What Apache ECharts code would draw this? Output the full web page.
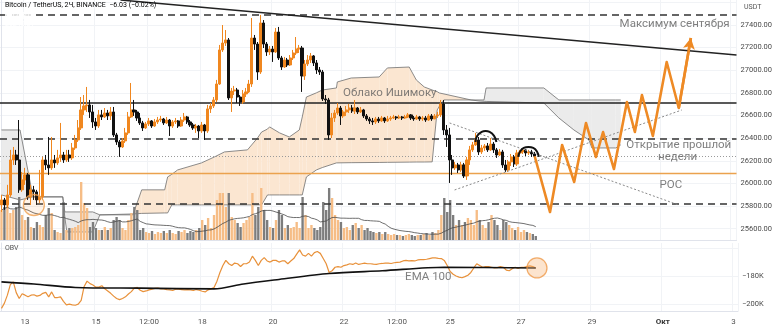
<!DOCTYPE html>
<html><head><meta charset="utf-8">
<script src="https://cdn.jsdelivr.net/npm/echarts@6/dist/echarts.min.js"></script>
<style>html,body{margin:0;padding:0;background:#fff}#c{width:775px;height:331px}</style>
</head><body><div id="c"></div>
<script>
// ---------- DATA ----------
const N_BARS = 250;                          // 2h slots from Sep 12 08:00 to Oct 3
const START = Date.UTC(2023, 8, 12, 8);
const xTickIdx  = [8, 32, 50, 68, 92, 116, 134, 152, 176, 200, 224, 248];
const xTickText = ['13','15','12:00','18','20','22','12:00','25','27','29','Окт','3'];
const priceTicks = [25600,25800,26000,26200,26400,26600,26800,27000,27200,27400];
const obvTicks = [-180, -200];

const open0 = 25810;
const closes = [25854,25810,25898,26207,26251,26207,25943,26031,26075,25881,25943,25925,25854,25881,26207,26163,26137,26207,26181,26225,
26251,26207,26251,26225,26313,26384,26490,26649,26684,26693,26631,26543,26507,26605,26587,26622,26596,26631,26428,26366,
26322,26375,26446,26587,26649,26631,26578,26534,26490,26525,26552,26507,26543,26560,26569,26534,26560,26507,26543,26552,
26507,26560,26587,26543,26516,26490,26507,26463,26516,26463,26658,26684,26737,26878,27179,27240,27267,26755,26816,26825,
26763,26719,26790,26808,26878,27284,27231,26984,27417,27231,27161,27187,27161,27337,27108,27028,27090,27046,27108,27152,
27187,27196,26949,27055,27090,27126,27064,27002,26984,26746,26737,26428,26578,26622,26666,26596,26631,26649,26666,26640,
26666,26631,26649,26596,26569,26552,26543,26569,26552,26578,26552,26569,26578,26587,26578,26587,26578,26587,26605,26578,
26569,26587,26569,26578,26560,26596,26569,26596,26605,26702,26472,26428,26207,26137,26163,26119,26163,26066,26207,26296,
26340,26384,26278,26313,26331,26296,26348,26296,26251,26278,26163,26119,26190,26234,26172,26269,26278,26296,26269,26278,
26260,26240];
const highs = [25898,25872,25987,26296,26322,26296,26560,26101,26137,26092,25987,25978,25943,26119,26234,26251,26410,26410,26251,26296,
26534,26278,26296,26296,26357,26428,26560,26763,26781,26852,26737,26693,26578,26649,26649,26666,26649,26675,26675,26446,
26384,26401,26490,26631,26887,26737,26649,26622,26552,26543,26578,26560,26569,26587,26596,26578,26587,26569,26560,26578,
26560,26587,26622,26596,26560,26534,26525,26516,26543,26525,26693,26710,26763,26914,27223,27399,27355,27284,26843,26861,
26843,26781,26825,26843,26914,27461,27311,27249,27488,27443,27249,27214,27214,27373,27382,27126,27117,27108,27134,27179,
27293,27223,27214,27090,27134,27152,27134,27090,27028,27002,26781,26755,26622,26649,26710,26684,26649,26684,26702,26693,
26737,26675,26675,26658,26613,26587,26578,26587,26587,26596,26587,26596,26596,26605,26596,26605,26596,26605,26622,26613,
26596,26605,26596,26596,26596,26613,26613,26613,26631,26737,26737,26516,26490,26251,26190,26181,26190,26181,26234,26331,
26366,26446,26410,26340,26348,26357,26401,26366,26313,26304,26296,26207,26207,26260,26251,26296,26296,26313,26304,26296,
26296,26278];
const lows = [25748,25766,25783,25881,26163,26163,25916,25925,25987,25854,25810,25854,25810,25827,25854,26119,26075,26119,26137,26163,
26190,26181,26190,26190,26207,26296,26366,26472,26605,26631,26578,26490,26472,26490,26560,26578,26560,26560,26410,26340,
26234,26313,26357,26428,26578,26596,26552,26516,26463,26481,26507,26490,26499,26525,26543,26516,26525,26419,26490,26525,
26490,26499,26543,26525,26499,26472,26446,26401,26446,26384,26446,26622,26666,26719,26870,27161,27214,26737,26631,26781,
26710,26684,26702,26763,26799,26852,27179,26914,26967,27196,27126,27134,27073,27152,27090,27002,27020,27028,27037,27090,
27134,27152,26808,26914,27037,27064,27037,26967,26958,26728,26702,26384,26401,26543,26605,26516,26578,26596,26622,26622,
26613,26613,26622,26578,26552,26525,26516,26525,26534,26543,26534,26543,26552,26569,26560,26569,26560,26569,26578,26560,
26552,26560,26552,26552,26543,26552,26552,26569,26578,26587,26428,26322,26004,26075,26119,26092,26101,26048,26031,26163,
26278,26331,26251,26260,26287,26278,26287,26269,26225,26242,26137,26101,26101,26154,26145,26154,26242,26260,26242,26251,
26234,26225];
const volumes = [3000,3300,3500,2700,3000,3300,4300,2500,2000,2300,1300,1200,1800,1500,1300,2500,3200,2700,1000,800,
700,3800,1000,1200,1200,1300,1500,5800,3700,3200,1300,1800,1200,1000,1000,1300,1000,1200,2000,2300,
2000,1200,1000,2000,2700,3300,3000,1000,1200,800,700,900,600,800,700,900,700,1000,700,600,
900,800,1000,700,900,800,1000,1200,2000,1500,2200,1200,2500,4000,4700,4700,3300,4700,2300,2000,
1700,1300,1700,2000,2300,4700,2500,3300,5200,3000,2000,1300,1200,2000,3000,2500,1200,1500,1200,1300,
1800,1200,4300,2500,1200,1500,1200,1000,1300,3800,3000,5200,4200,2500,2000,1800,1200,1300,1000,1500,
1700,1200,1500,1000,1200,900,800,700,800,600,800,600,500,600,500,500,400,500,600,500,
400,500,500,600,700,500,800,700,1000,2500,4200,2800,4000,2500,1500,2000,1500,1800,2200,2000,
1500,3000,2000,1500,1200,1800,2500,2000,1500,1000,2000,1800,1500,1200,1000,1300,800,1000,800,700,
600,400];
const obv = [-203.1,-199.4,-193.7,-186.2,-184.2,-191.9,-196.1,-192.7,-193.7,-194.9,
-193.7,-193.4,-194.4,-193.9,-192.4,-191.7,-194.9,-191.4,-195.4,-195.4,
-194.9,-198.1,-200.6,-200.1,-200.6,-200.9,-200.1,-197.4,-187.5,-183.7,
-185.5,-186.5,-188,-188,-187,-189.2,-190.7,-192.4,-194.4,-196.1,
-196.9,-196.1,-194.9,-192.9,-191.2,-188.7,-188.2,-190.2,-191.2,-190.7,
-189.9,-189.5,-188.9,-188.7,-189.2,-189.2,-189.7,-189.9,-190.4,-189.5,
-189.5,-189.7,-189.9,-189.7,-189.9,-190.4,-189.7,-190.2,-190.9,-191.4,
-189.9,-189.2,-188.2,-183.7,-177.5,-172.6,-168.9,-171.3,-172.6,-170.8,
-171.3,-173.3,-171.3,-171.3,-170.1,-165.9,-168.9,-172.6,-168.9,-166.9,
-169.3,-170.1,-168.9,-168.9,-170.1,-169.3,-169.3,-171.3,-169.3,-167.6,
-164.4,-161.4,-165.1,-165.9,-163.9,-165.9,-163.4,-162.6,-163.9,-167.6,
-171.3,-177.5,-176.3,-173.8,-173.3,-173.8,-172.6,-172.1,-171.3,-171.8,
-170.8,-171.8,-171.3,-170.8,-171.3,-171.3,-171.6,-171.8,-171.3,-171.1,
-170.8,-170.8,-171.1,-170.6,-170.3,-170.1,-169.3,-168.9,-169.3,-169.1,
-169.3,-168.6,-168.4,-168.4,-168.1,-167.6,-167.1,-167.1,-167.4,-167.6,
-168.9,-172.6,-176.8,-178.8,-180,-180.8,-181.3,-180.5,-179.5,-177.5,
-174.3,-171.3,-172.6,-173.8,-173.3,-173.3,-173.8,-174.3,-174.1,-173.3,
-173.8,-175.8,-176.3,-174.8,-173.8,-174.6,-173.8,-173.8,-173.3,-172.8,
-173.3,-174.3];
const obvEma = [[0,-184.2],[11,-185.7],[25,-188.2],[47,-188.7],[72,-189.2],[82,-185.7],[94,-182.5],[111,-178.3],[129,-176.3],[150,-173.8],[181,-174.3]];
// Ichimoku cloud: [bar, spanA, spanB]
const cloud = [[0,25898,26472],[6.3,25854,26472],[10.7,25881,25881],[20.8,25881,25881],[21.5,25700,25748],[22.2,25571,25748],
[31,25571,25748],[33.4,25722,25722],[44.6,25722,25730],[47.6,25943,25735],[55.4,25943,25739],[56.4,26057,25739],[57.8,26080,25810],
[59.8,26119,25810],[67.9,26181,25810],[72.3,26234,25810],[75.7,26278,25810],[83.5,26296,25810],[86.9,26401,25810],[88.3,26454,25810],
[90.3,26480,25898],[91,26499,25898],[94.4,26446,25898],[97.7,26410,25898],[101.1,26472,25898],[102.1,26587,25898],[103.5,26763,26057],
[106.9,26800,26119],[108.9,26825,26140],[113.7,26843,26181],[114,26896,26181],[118.7,26931,26183],[128.2,26940,26185],[131,27020,26186],
[138.4,27028,26188],[140.8,26914,26189],[143.5,26852,26189],[146.2,26825,26190],[147.9,26810,26649],[148.6,26799,26680],[150.2,26790,26737],
[159.4,26737,26737],[162.1,26728,26737],[163.8,26725,26737],[164.5,26724,26843],[184.1,26710,26843],[189.2,26578,26737],[194.3,26472,26737],
[199.4,26384,26737],[200.4,26313,26737],[208.5,26313,26737],[210.2,26340,26737]];
// horizontal levels
const septMax = 27487, blackLevel = 26710, weekOpen = 26392, pocLevel = 26093, lowLevel = 25819, lastPrice = 26240.31;
const topTrend = [[40.4,27620],[249.5,27134]];
const triUpper = [[152.1,26534],[229.9,25809]];
const triLower = [[153.8,25942],[230.9,26648]];
const arc1 = [[160.9,26366],[161.5,26420],[163,26455],[164.3,26463],[165.7,26455],[167.2,26420],[168,26366]];
const arc2 = [[175.4,26234],[176,26280],[177.3,26313],[178.9,26322],[180.5,26313],[181.8,26280],[182.4,26234]];
const projection = [[181,26240],[186.2,25747],[190.3,26339],[194.4,26012],[198.4,26534],[201.8,26233],[204.2,26454],[207.9,26127],
[212.3,26719],[215,26454],[217.4,26781],[221.1,26419],[225.8,27072],[229.9,26666],[234,27284]];
const priceCircle = [11, 25809];
const obvCircle = [181.4, -174.3];
const notes = [
  {k:228.5, p:27408, t:'Максимум сентября'},
  {k:131.8, p:26799, t:'Облако Ишимоку'},
  {k:229.9, p:26339, t:'Открытие прошлой'},
  {k:229.5, p:26233, t:'недели'},
  {k:227.2, p:25986, t:'POC'}
];
const obvNote = {k:144.6, v:-180.7, t:'EMA 100'};

// ---------- BUILD ----------
const cats = [];
for (let i = 0; i < N_BARS; i++) {
  const d = new Date(START + i * 7200000);
  cats.push((d.getUTCMonth()+1) + '-' + d.getUTCDate() + ' ' + d.getUTCHours() + ':00');
}
const UP = '#f0871f', DOWN = '#111111';
const candles = closes.map((c, i) => {
  const o = i === 0 ? open0 : closes[i-1];
  return [o, c, lows[i], highs[i]];
});
const volData = volumes.map((v, i) => ({value: v, itemStyle: {color: candles[i][1] >= candles[i][0] ? '#f6bd86' : '#7d7d7d'}}));
const volMA = volumes.map((v, i) => {
  const s = Math.max(0, i - 19); let sum = 0;
  for (let j = s; j <= i; j++) sum += volumes[j];
  return +(sum / (i - s + 1)).toFixed(1);
});
const tickFn = (idx) => xTickIdx.indexOf(idx) >= 0;
const FONT = 'Roboto, "Liberation Sans", sans-serif';
const GL = -1, GR = 37;

function hline(val, color, width, type) {
  return {yAxis: val, lineStyle: {color: color, width: width, type: type}};
}

const chart = echarts.init(document.getElementById('c'));
const option = {
  animation: false,
  backgroundColor: '#ffffff',
  grid: [
    {left: GL, right: GR, top: 0, height: 240},
    {left: GL, right: GR, top: 170, height: 70},
    {left: GL, right: GR, top: 243, height: 68}
  ],
  xAxis: [
    {type:'category', gridIndex:0, data:cats, boundaryGap:true, axisLine:{show:true, lineStyle:{color:'#e0e3eb'}}, axisTick:{show:false}, axisLabel:{show:false},
     splitLine:{show:true, interval:tickFn, lineStyle:{color:'#f1f3f6', width:1}}},
    {type:'value', gridIndex:0, min:-0.5, max:N_BARS-0.5, show:false},
    {type:'category', gridIndex:1, data:cats, boundaryGap:true, show:false},
    {type:'category', gridIndex:2, data:cats, boundaryGap:true, position:'bottom',
     axisLine:{show:true, lineStyle:{color:'#e0e3eb'}}, axisTick:{show:false},
     axisLabel:{interval:tickFn, margin:7, fontSize:8, color:'#555', fontFamily:FONT,
       formatter:(v, idx) => { const t = xTickText[xTickIdx.indexOf(idx)]; return t === 'Окт' ? '{b|Окт}' : t; },
       rich:{b:{fontWeight:'bold', fontSize:8, color:'#333', fontFamily:FONT}}},
     splitLine:{show:true, interval:tickFn, lineStyle:{color:'#f1f3f6'}}},
    {type:'value', gridIndex:2, min:-0.5, max:N_BARS-0.5, show:false}
  ],
  yAxis: [
    {type:'value', gridIndex:0, position:'right', min:25500, max:27620, interval:100, scale:true,
     axisLine:{show:true, lineStyle:{color:'#e0e3eb'}}, axisTick:{show:false},
     axisLabel:{margin:4, fontSize:7.5, color:'#4a4a4a', fontFamily:FONT, showMaxLabel:false, showMinLabel:false,
       formatter:(v) => priceTicks.indexOf(v) >= 0 ? v.toFixed(2) : ''},
     splitLine:{show:true, lineStyle:{color:['rgba(0,0,0,0)','#f1f3f6']}}},
    {type:'value', gridIndex:1, min:0, max:7000, show:false},
    {type:'value', gridIndex:2, position:'right', min:-205, max:-156.5, interval:5,
     axisLine:{show:true, lineStyle:{color:'#e0e3eb'}}, axisTick:{show:false},
     axisLabel:{margin:4, fontSize:7.5, color:'#4a4a4a', fontFamily:FONT, showMaxLabel:false,
       formatter:(v) => obvTicks.indexOf(v) >= 0 ? '\u2212' + Math.abs(v) + 'K' : ''},
     splitLine:{show:true, lineStyle:{color:['rgba(0,0,0,0)','#f1f3f6','rgba(0,0,0,0)','rgba(0,0,0,0)']}}}
  ],
  series: [
    // cloud fill
    {type:'custom', xAxisIndex:1, yAxisIndex:0, data:cloud, encode:{x:0, y:[1,2]}, z:1, silent:true, clip:true,
     renderItem:(params, api) => {
       const i = params.dataIndex;
       if (i >= cloud.length - 1) return {type:'group', children:[]};
       const a = cloud[i], b = cloud[i+1];
       const pts = [api.coord([a[0], a[1]]), api.coord([b[0], b[1]]), api.coord([b[0], b[2]]), api.coord([a[0], a[2]])];
       const bull = (a[1] + b[1]) >= (a[2] + b[2]);
       return {type:'polygon', shape:{points:pts}, style:{fill: bull ? '#fbe6d1' : '#ebebeb', stroke:null}};
     }},
    {type:'line', xAxisIndex:1, yAxisIndex:0, data:cloud.map(r => [r[0], r[1]]), symbol:'none', z:2, silent:true,
     lineStyle:{color:'#6f6f6f', width:0.8}},
    {type:'line', xAxisIndex:1, yAxisIndex:0, data:cloud.map(r => [r[0], r[2]]), symbol:'none', z:2, silent:true,
     lineStyle:{color:'#6f6f6f', width:0.8}},
    // levels
    {type:'line', xAxisIndex:1, yAxisIndex:0, data:[], z:3, silent:true,
     markLine:{silent:true, symbol:['none','none'], label:{show:false}, animation:false,
       data:[hline(septMax,'#333',1.5,[7,5]), hline(weekOpen,'#333',1.5,[7,5]), hline(lowLevel,'#333',1.5,[7,5]),
             hline(blackLevel,'#222',1.5,'solid'), hline(pocLevel,'#eba24e',1.3,'solid'),
             hline(lastPrice,'#9a9a9a',1,[1,2])]}},
    // volume
    {type:'bar', xAxisIndex:2, yAxisIndex:1, data:volData, barWidth:'80%', z:3, silent:true},
    {type:'line', xAxisIndex:2, yAxisIndex:1, data:volMA, symbol:'none', z:4, silent:true, lineStyle:{color:'#4a4a4a', width:0.8}},
    // candles
    {type:'candlestick', xAxisIndex:0, yAxisIndex:0, data:candles, barWidth:2.6, z:5,
     itemStyle:{color:UP, color0:DOWN, borderColor:UP, borderColor0:DOWN, borderWidth:1}},
    // trend lines
    {type:'line', xAxisIndex:1, yAxisIndex:0, data:topTrend, symbol:'none', z:6, lineStyle:{color:'#222', width:1.5}},
    {type:'line', xAxisIndex:1, yAxisIndex:0, data:triUpper, symbol:'none', z:6, lineStyle:{color:'#8a8a8a', width:1, type:[2,2]}},
    {type:'line', xAxisIndex:1, yAxisIndex:0, data:triLower, symbol:'none', z:6, lineStyle:{color:'#8a8a8a', width:1, type:[2,2]}},
    {type:'line', xAxisIndex:1, yAxisIndex:0, data:arc1, symbol:'none', smooth:0.5, z:7, lineStyle:{color:'#111', width:2}},
    {type:'line', xAxisIndex:1, yAxisIndex:0, data:arc2, symbol:'none', smooth:0.5, z:7, lineStyle:{color:'#111', width:2}},
    // projection
    {type:'line', xAxisIndex:1, yAxisIndex:0, data:projection, symbol:'none', z:8, lineStyle:{color:'#ee8a25', width:2.6, join:'round'},
     markLine:{silent:true, symbol:['none','arrow'], symbolSize:[9,11], label:{show:false}, lineStyle:{color:'#ee8a25', width:2.6, type:'solid'},
       data:[[{coord:projection[projection.length-2]}, {coord:projection[projection.length-1]}]]}},
    // circle
    {type:'scatter', xAxisIndex:1, yAxisIndex:0, data:[priceCircle], symbolSize:21, z:9,
     itemStyle:{color:'rgba(240,135,31,0.12)', borderColor:'#f0a050', borderWidth:1.3}},
    // annotations
    {type:'scatter', xAxisIndex:1, yAxisIndex:0, data:notes.map(n => ({value:[n.k, n.p], name:n.t})), symbolSize:1, z:10,
     itemStyle:{color:'rgba(0,0,0,0)'},
     label:{show:true, position:'inside', formatter:(p) => p.name, fontSize:11.5, color:'#5f5f5f', fontFamily:FONT}},
    // OBV
    {type:'line', xAxisIndex:3, yAxisIndex:2, data:obv, symbol:'none', z:5, lineStyle:{color:'#e8913a', width:1.2}},
    {type:'line', xAxisIndex:4, yAxisIndex:2, data:obvEma, symbol:'none', smooth:0.3, z:6, lineStyle:{color:'#111', width:1.6}},
    {type:'scatter', xAxisIndex:4, yAxisIndex:2, data:[obvCircle], symbolSize:20, z:7,
     itemStyle:{color:'rgba(246,180,120,0.45)', borderColor:'#ef9a4a', borderWidth:1.3}},
    {type:'scatter', xAxisIndex:4, yAxisIndex:2, data:[{value:[obvNote.k, obvNote.v], name:obvNote.t}], symbolSize:1, z:8,
     itemStyle:{color:'rgba(0,0,0,0)'},
     label:{show:true, position:'inside', formatter:(p) => p.name, fontSize:11.5, color:'#5f5f5f', fontFamily:FONT}}
  ],
  graphic: [
    {type:'text', id:'t1', left:5, top:2, z:100, style:{text:'Bitcoin / TetherUS, 2Ч, BINANCE  \u22126.03 (\u22120.02%)', fill:'#555', fontSize:7, fontFamily:FONT}},
    {type:'text', id:'t2', left:5, top:12, z:100, style:{text:'Объем · BTC', fill:'#555', fontSize:7, fontFamily:FONT, backgroundColor:'rgba(255,255,255,0.8)'}},
    {type:'text', id:'t3', left:5, top:21, z:100, style:{text:'Ишимоку', fill:'#555', fontSize:7, fontFamily:FONT}},
    {type:'text', id:'t4', left:5, top:245, z:100, style:{text:'OBV', fill:'#555', fontSize:7, fontFamily:FONT}},
    {type:'text', id:'t5', left:744, top:4, z:100, style:{text:'USDT', fill:'#555', fontSize:7, fontFamily:FONT}}
  ]
};
chart.setOption(option);
const yPix = chart.convertToPixel({yAxisIndex:0}, lastPrice);
chart.setOption({graphic:[
  {type:'group', id:'lp', z:120, children:[
    {type:'rect', shape:{x:707, y:yPix-5, width:66, height:10}, style:{fill:'#000'}},
    {type:'text', style:{x:711, y:yPix, text:'BTCUSDT', fill:'#fff', fontSize:6.5, fontFamily:FONT, verticalAlign:'middle'}},
    {type:'text', style:{x:742, y:yPix, text:lastPrice.toFixed(2), fill:'#fff', fontSize:7, fontFamily:FONT, verticalAlign:'middle'}}
  ]}
]});
</script>
</body></html>
